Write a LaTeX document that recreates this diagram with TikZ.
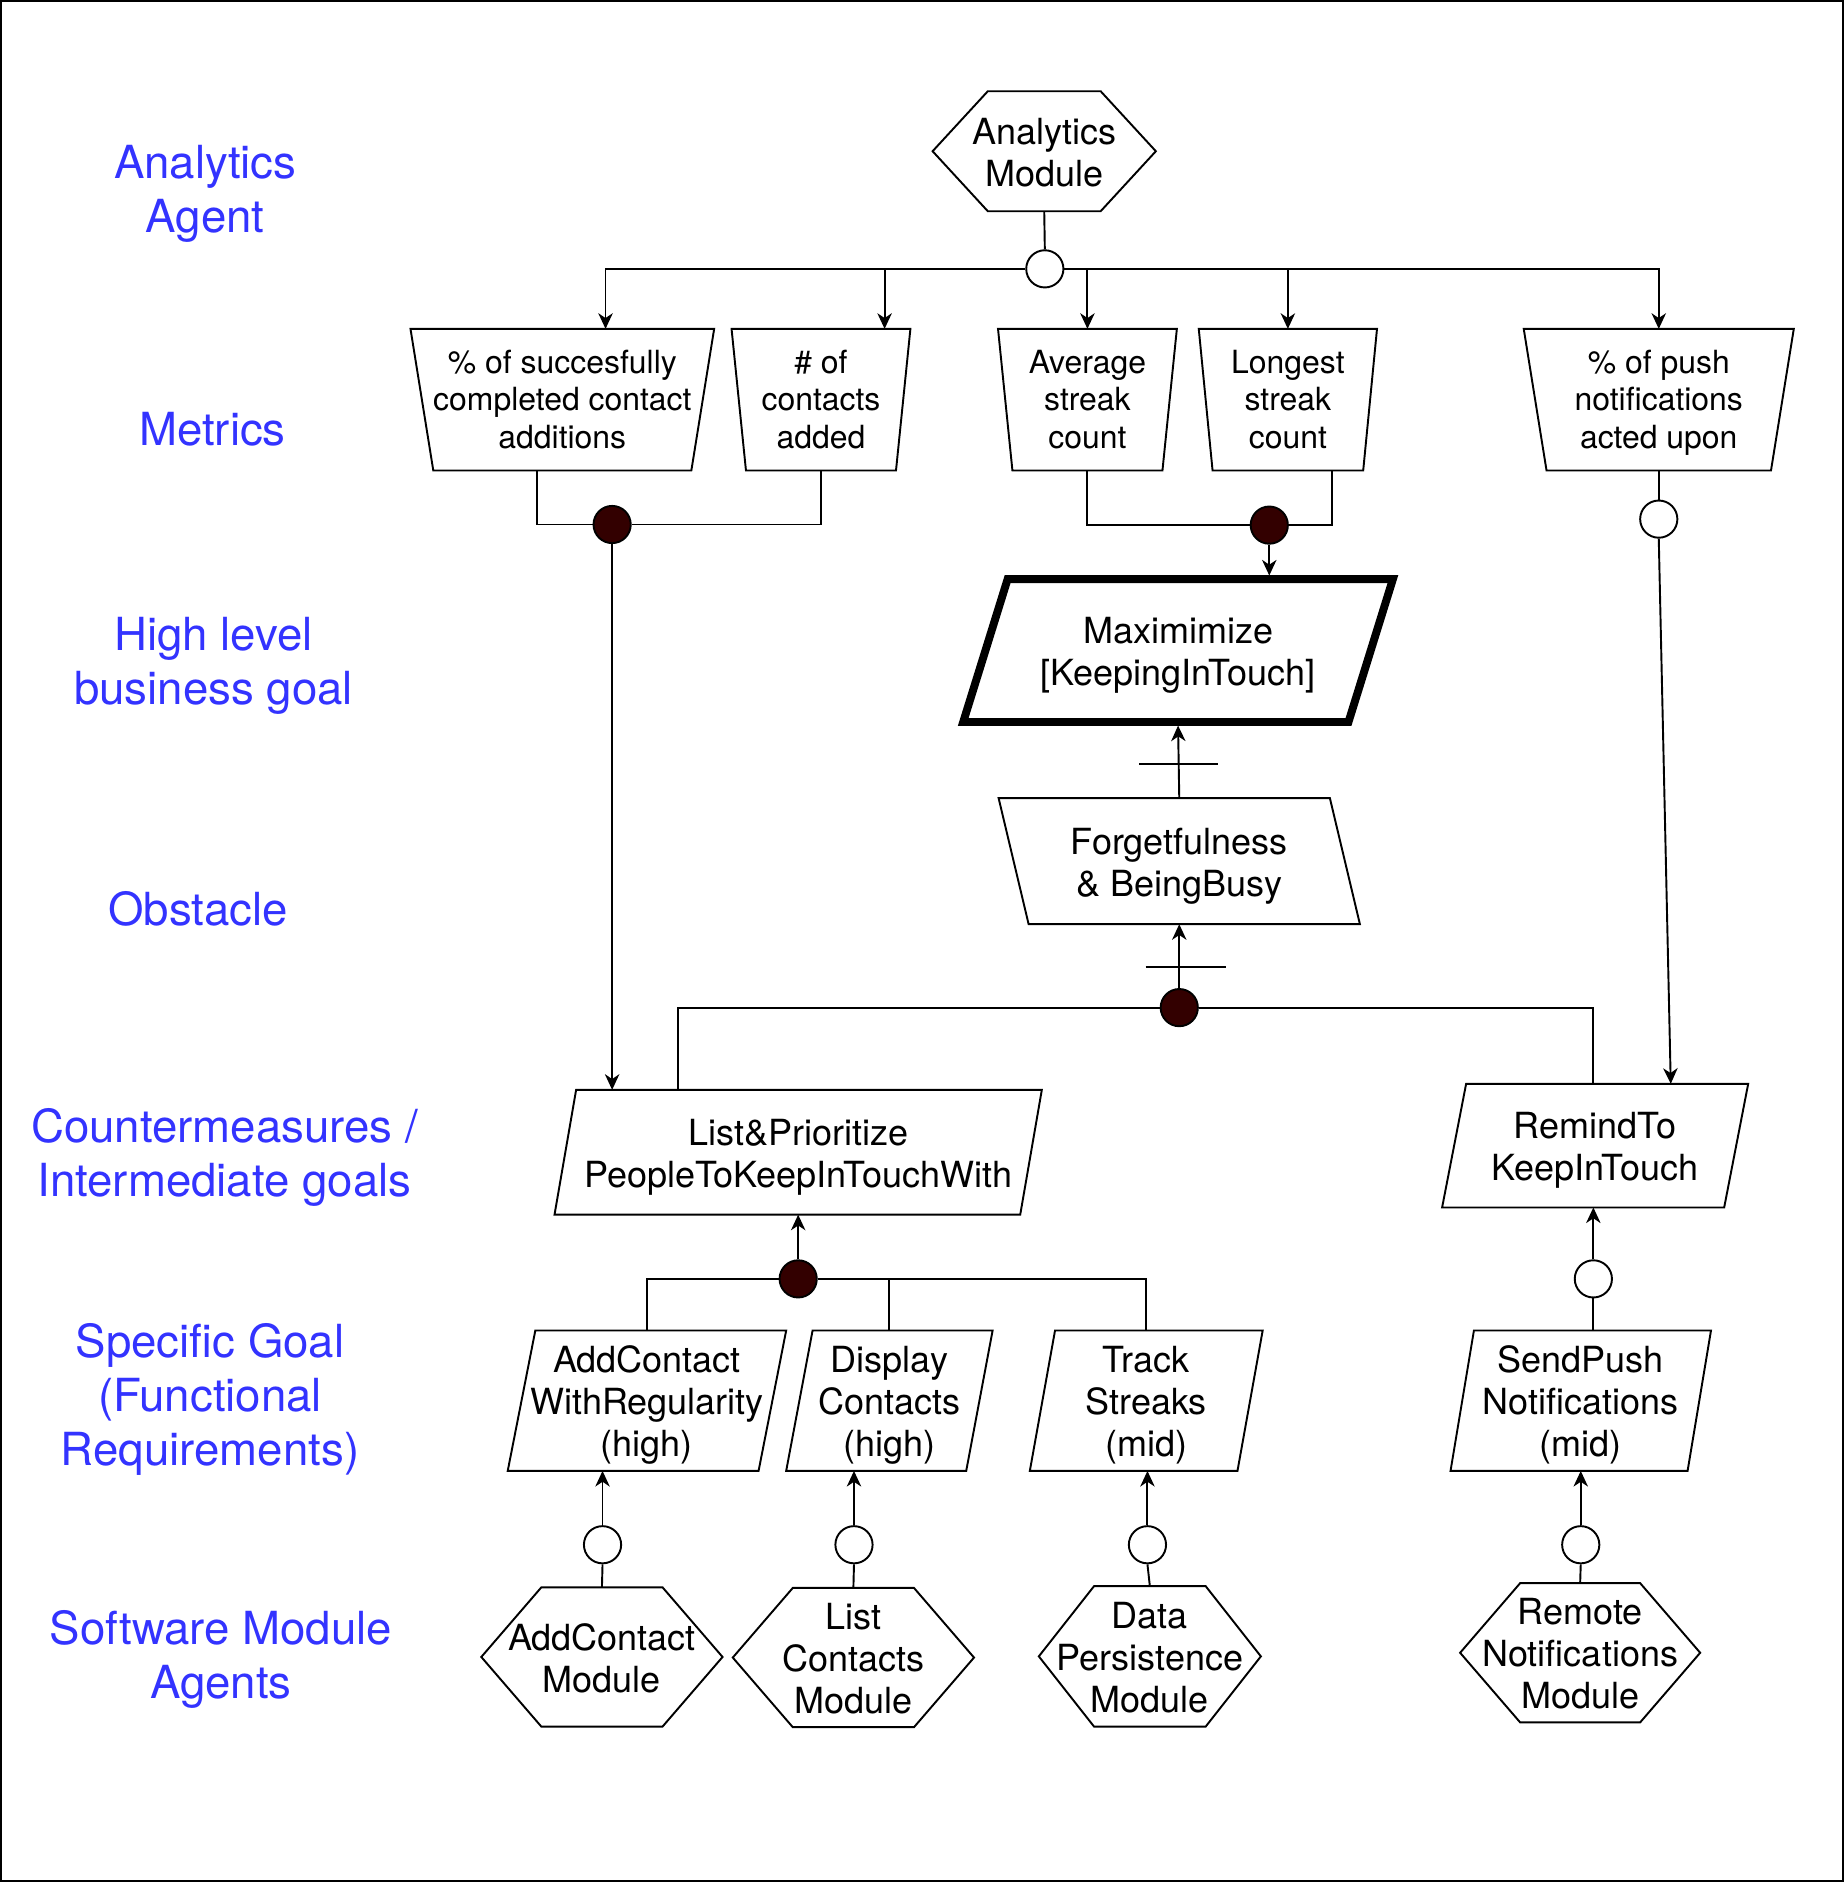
\documentclass[tikz,border=0pt]{standalone}
\usepackage{fontspec}
\setmainfont{TeX Gyre Heros}
\usepackage{tikz}
\usetikzlibrary{arrows.meta}
\usetikzlibrary{calc}

\definecolor{layerblue}{RGB}{51,51,255}
\definecolor{anddark}{RGB}{51,0,0}

\newcommand{\mainup}{\rule{0pt}{1.03em}}
\newcommand{\metricup}{\rule{0pt}{0.95em}}
\newcommand{\lowend}{\rule[-0.25em]{0pt}{0.25em}}

\newcommand{\hexagonline}[2]{%
  \draw ($(#1.north west)+(#2,0)$) -- ($(#1.north east)+(-#2,0)$) -- (#1.east)
    -- ($(#1.south east)+(-#2,0)$) -- ($(#1.south west)+(#2,0)$) -- (#1.west) -- cycle;}
\newcommand{\trapline}[2]{%
  \draw (#1.north west) -- (#1.north east) -- ($(#1.south east)+(-#2,0)$)
    -- ($(#1.south west)+(#2,0)$) -- cycle;}
\newcommand{\paraline}[3][]{%
  \draw[#1] ($(#2.north west)+(#3,0)$) -- (#2.north east) -- ($(#2.south east)+(-#3,0)$)
    -- (#2.south west) -- cycle;}
\newcommand{\paralineleft}[2]{%
  \draw (#1.north west) -- ($(#1.north east)+(-#2,0)$) -- (#1.south east)
    -- ($(#1.south west)+(#2,0)$) -- cycle;}

\tikzset{
  boxsize/.style 2 args={minimum width=#1*0.5pt,minimum height=#2*0.5pt},
  orcircle/.style={circle,draw,fill=white,minimum size=15.5pt,inner sep=0pt},
  andcircle/.style={circle,draw,fill=anddark,minimum size=15.5pt,inner sep=0pt},
}

\begin{document}
\begin{tikzpicture}[x=0.5pt,y=-0.5pt,line width=0.8pt,
    >={Stealth[length=6.5pt,width=6pt,inset=2pt]}]
		\useasboundingbox (0,0) rectangle (1536,1568);
		\draw (0.8,0.8) rectangle (1535.2,1567.2);

		\begin{scope}[every node/.style={text=layerblue,align=center,
		              font=\fontsize{19}{22.5}\selectfont}]
			\node (lbAgent) at (171,158) {\metricup Analytics\\Agent\lowend};
			\node (lbMetrics) at (177,358) {\metricup Metrics\lowend};
			\node (lbGoal) at (178,551) {\metricup High level\\business goal\lowend};
			\node (lbObstacle) at (165,758) {\metricup Obstacle\lowend};
			\node (lbCounter) at (187,961) {\metricup Countermeasures /\\Intermediate goals\lowend};
			\node (lbSpecific) at (175,1163) {\metricup Specific Goal\\(Functional\\Requirements)\lowend};
			\node (lbSoftware) at (184,1379) {\metricup Software Module\\Agents\lowend};
		\end{scope}

		\begin{scope}[every node/.style={inner sep=0pt,outer sep=0pt,align=center,
		              font=\fontsize{13.3}{15.75}\selectfont}]
			\node[boxsize={253}{118}] (mSucc) at (468.5,333) {\metricup\% of succesfully\\completed contact\\additions\lowend};
			\node[boxsize={149}{118}] (mAdded) at (684,333) {\metricup\# of\\contacts\\added\lowend};
			\node[boxsize={149}{118}] (mAvg) at (906,333) {\metricup Average\\streak\\count\lowend};
			\node[boxsize={148.5}{118}] (mLong) at (1073,333) {\metricup Longest\\streak\\count\lowend};
			\node[boxsize={225}{118}] (mPush) at (1382,333) {\metricup\% of push\\notifications\\acted upon\lowend};
		\end{scope}

		\begin{scope}[every node/.style={inner sep=0pt,outer sep=0pt,align=center,
		              font=\fontsize{15}{17.5}\selectfont}]
			\node[boxsize={186}{100}] (anMod) at (870,126) {\mainup Analytics\\Module\lowend};
			\node[boxsize={358}{119}] (maxGoal) at (981.5,542) {\mainup Maximimize\\{[KeepingInTouch]}\lowend};
			\node[boxsize={301}{105}] (obst) at (982.5,717.5) {\mainup Forgetfulness\\\& BeingBusy\lowend};
			\node[boxsize={406}{104}] (cmList) at (665,960) {\mainup List\&Prioritize\\PeopleToKeepInTouchWith\lowend};
			\node[boxsize={255}{103}] (cmRemind) at (1329,954.5) {\mainup RemindTo\\KeepInTouch\lowend};
			\node[boxsize={232}{117}] (sgAdd) at (539,1167) {\mainup AddContact\\WithRegularity\\(high)\lowend};
			\node[boxsize={172}{117}] (sgDisplay) at (741,1167) {\mainup Display\\Contacts\\(high)\lowend};
			\node[boxsize={194}{117}] (sgTrack) at (955,1167) {\mainup Track\\Streaks\\(mid)\lowend};
			\node[boxsize={217}{117}] (sgPush) at (1317,1167) {\mainup SendPush\\Notifications\\(mid)\lowend};
			\node[boxsize={201}{116}] (smAdd) at (501.5,1380.5) {\mainup AddContact\\Module\lowend};
			\node[boxsize={201}{116}] (smList) at (711,1381) {\mainup List\\Contacts\\Module\lowend};
			\node[boxsize={185}{117}] (smData) at (958,1380) {\mainup Data\\Persistence\\Module\lowend};
			\node[boxsize={200}{116}] (smNotif) at (1316.5,1377) {\mainup Remote\\Notifications\\Module\lowend};
		\end{scope}

		\hexagonline{anMod}{46}
		\trapline{mSucc}{19}
		\trapline{mAdded}{12}
		\trapline{mAvg}{12}
		\trapline{mLong}{11.5}
		\trapline{mPush}{19}
		\paraline[line width=3.3pt]{maxGoal}{37}
		\paralineleft{obst}{25}
		\paraline{cmList}{18}
		\paraline{cmRemind}{20}
		\paraline{sgAdd}{23}
		\paraline{sgDisplay}{22}
		\paraline{sgTrack}{21}
		\paraline{sgPush}{19.5}
		\hexagonline{smAdd}{50}
		\hexagonline{smList}{50}
		\hexagonline{smData}{46}
		\hexagonline{smNotif}{50}

		\node[orcircle] (anOr) at (870.5,224) {};
		\node[andcircle] (andA) at (510,437) {};
		\node[andcircle] (andB) at (1057.5,437.5) {};
		\node[orcircle] (orPush) at (1382,432.5) {};
		\node[andcircle] (andC) at (982.5,839.5) {};
		\node[andcircle] (andD) at (665,1065.5) {};
		\node[orcircle] (orRemind) at (1327.5,1065.5) {};
		\node[orcircle] (orAdd) at (502,1287) {};
		\node[orcircle] (orList) at (711.5,1287) {};
		\node[orcircle] (orData) at (956,1287) {};
		\node[orcircle] (orNotif) at (1317,1287) {};

		\draw (anMod.south) -- (anOr.north);
		\draw[->] (anOr.west) -| ($(mSucc.north)+(36,0)$);
		\draw[->] (anOr.west) -| ($(mAdded.north)+(53,0)$);
		\draw[->] (anOr.east) -| (mAvg.north);
		\draw[->] (anOr.east) -| (mLong.north);
		\draw[->] (anOr.east) -| (mPush.north);

		\draw ($(mSucc.south)+(-21,0)$) |- (andA.west);
		\draw (mAdded.south) |- (andA.east);
		\draw[->] (andA.south) -- (andA |- cmList.north);

		\draw (mAvg.south) |- (andB.west);
		\draw ($(mLong.south)+(36.5,0)$) |- (andB.east);
		\draw[->] (andB.south) -- ($(andB |- maxGoal.north)+(0,-3)$);

		\draw (mPush.south) -- (orPush.north);
		\draw[->] (orPush.south) -- ($(cmRemind.north)+(63,0)$);

		\draw[->] (obst.north) -- coordinate[pos=0.47] (barTop) ($(maxGoal.south)+(0,3)$);
		\draw ($(barTop)+(-33,0)$) -- ($(barTop)+(33,0)$);
		\draw[->] (andC.north) -- coordinate[pos=0.33] (barLow) (obst.south);
		\draw ($(barLow)+(-28,0)$) -- ($(barLow)+(39,0)$);
		\draw (andC.west) -| ($(cmList.north)+(-100,0)$);
		\draw (andC.east) -| (orRemind |- cmRemind.north);

		\draw[->] (andD.north) -- (cmList.south);
		\draw (andD.west) -| (sgAdd.north);
		\draw (andD.east) -| (sgDisplay.north);
		\draw (andD.east) -| (sgTrack.north);

		\draw[->] (orRemind.north) -- (orRemind |- cmRemind.south);
		\draw (orRemind.south) -- (orRemind |- sgPush.north);

		\draw (smAdd.north) -- (orAdd.south);
		\draw[->] (orAdd.north) -- (orAdd |- sgAdd.south);
		\draw (smList.north) -- (orList.south);
		\draw[->] (orList.north) -- (orList |- sgDisplay.south);
		\draw (smData.north) -- (orData.south);
		\draw[->] (orData.north) -- (orData |- sgTrack.south);
		\draw (smNotif.north) -- (orNotif.south);
		\draw[->] (orNotif.north) -- (orNotif |- sgPush.south);
\end{tikzpicture}
\end{document}
